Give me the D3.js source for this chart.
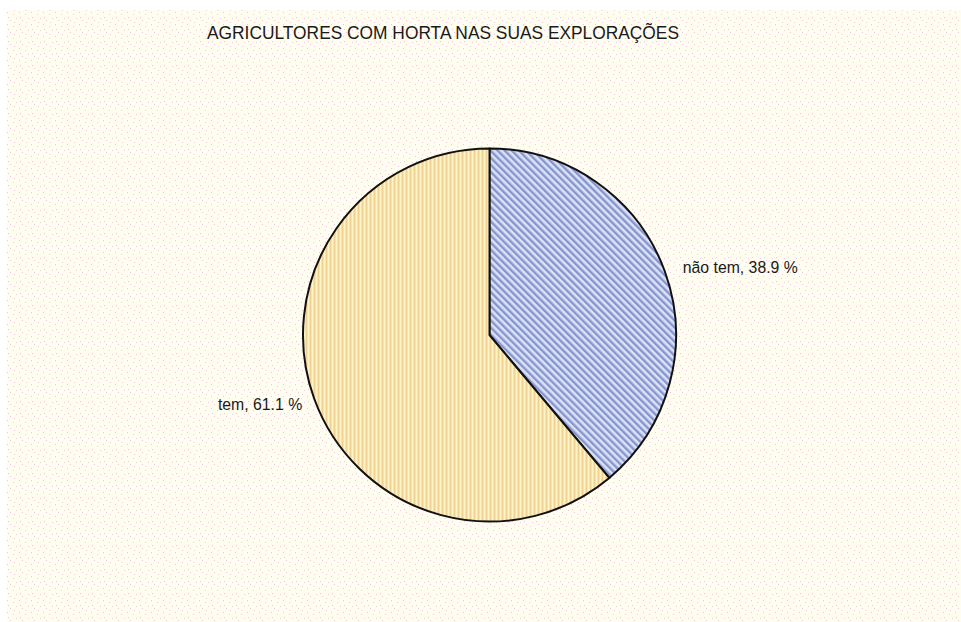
<!DOCTYPE html>
<html>
<head>
<meta charset="utf-8">
<script src="https://cdn.jsdelivr.net/npm/d3@7"></script>
<style>
  html, body { margin: 0; padding: 0; background: #ffffff; }
  svg { display: block; }
</style>
</head>
<body>
<svg id="chart" width="961" height="622"></svg>
<script>
// Chart data
const title = "AGRICULTORES COM HORTA NAS SUAS EXPLORAÇÕES";
const categories = ["não tem", "tem"];
const values = [38.9, 61.1];
const fills = ["url(#hatchBlue)", "url(#stripeTan)"];

const width = 961, height = 622;
const svg = d3.select("#chart");
const defs = svg.append("defs");

// Pale paper with sparse pink specks
const bg = defs.append("pattern")
  .attr("id", "paper").attr("patternUnits", "userSpaceOnUse")
  .attr("width", 12).attr("height", 12);
bg.append("rect").attr("width", 12).attr("height", 12).attr("fill", "#fffdef");
[[1, 2], [7, 0], [4, 6], [10, 8], [2, 10], [8, 5]].forEach(([x, y], i) => {
  bg.append("rect").attr("x", x).attr("y", y).attr("width", 1).attr("height", 1)
    .attr("fill", i % 2 ? "#f0c4dc" : "#ebcde4");
});

// Blue diagonal hatch
const hb = defs.append("pattern")
  .attr("id", "hatchBlue").attr("patternUnits", "userSpaceOnUse")
  .attr("width", 5).attr("height", 5)
  .attr("patternTransform", "rotate(-45)");
hb.append("rect").attr("width", 5).attr("height", 5).attr("fill", "#dce1f4");
hb.append("rect").attr("x", 0).attr("width", 2.4).attr("height", 5).attr("fill", "#8595cf");

// Tan vertical stripes
const st = defs.append("pattern")
  .attr("id", "stripeTan").attr("patternUnits", "userSpaceOnUse")
  .attr("width", 4).attr("height", 4);
st.append("rect").attr("width", 4).attr("height", 4).attr("fill", "#fff4c4");
st.append("rect").attr("x", 0).attr("width", 2).attr("height", 4).attr("fill", "#f0d096");

// Background panel
svg.append("rect").attr("x", 7).attr("y", 10)
  .attr("width", width - 7).attr("height", height - 10)
  .attr("fill", "url(#paper)");

// Title
svg.append("text")
  .attr("x", 207).attr("y", 39)
  .attr("textLength", 472).attr("lengthAdjust", "spacingAndGlyphs")
  .attr("font-family", "Liberation Sans, Arial, sans-serif")
  .attr("font-size", 18).attr("fill", "#1a1a1a")
  .text(title);

// Pie
const cx = 489.5, cy = 335, r = 186.5;
const pie = d3.pie().sort(null).value(d => d)(values);
const arc = d3.arc().innerRadius(0).outerRadius(r);
const g = svg.append("g").attr("transform", `translate(${cx},${cy})`);

g.selectAll("path.slice").data(pie).join("path")
  .attr("class", "slice")
  .attr("d", arc)
  .attr("fill", (d, i) => fills[i])
  .attr("stroke", "#111")
  .attr("stroke-width", 2)
  .attr("stroke-linejoin", "round");

// Slice labels outside the rim: upper labels sit slightly above, lower ones below
g.selectAll("text.lbl").data(pie).join("text")
  .attr("class", "lbl")
  .each(function (d, i) {
    const a = (d.startAngle + d.endAngle) / 2;
    const sx = Math.sin(a), sy = -Math.cos(a);
    const right = sx >= 0;
    const x = sx * r + (right ? 18 : -12);
    const y = sy * r + (sy < 0 ? 2 : 11);
    d3.select(this)
      .attr("x", x).attr("y", y)
      .attr("text-anchor", right ? "start" : "end")
      .attr("font-family", "Liberation Sans, Arial, sans-serif")
      .attr("font-size", 15.8).attr("fill", "#1a1a1a")
      .text(`${categories[i]}, ${values[i]} %`);
  });
</script>
</body>
</html>
